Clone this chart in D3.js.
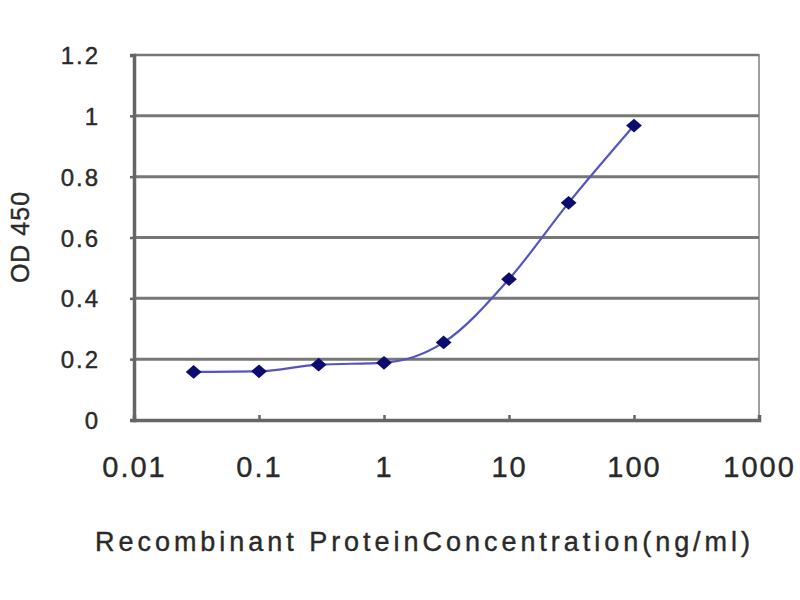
<!DOCTYPE html>
<html>
<head>
<meta charset="utf-8">
<script src="https://cdn.jsdelivr.net/npm/d3@7"></script>
<style>
  body { margin: 0; background: #fff; }
  svg text { font-family: "Liberation Sans", Arial, sans-serif; fill: #2a2a2a; stroke: #2a2a2a; stroke-width: 0.4px; }
</style>
</head>
<body>
<svg id="chart" width="800" height="600"></svg>
<script>
// values
const concentrations = [0.03, 0.1, 0.3, 1, 3, 10, 30, 100];
const odValues = [0.158, 0.160, 0.182, 0.188, 0.255, 0.463, 0.714, 0.968];
const xTickValues = [0.01, 0.1, 1, 10, 100, 1000];
const xTickLabels = ["0.01", "0.1", "1", "10", "100", "1000"];
const yTickValues = [0, 0.2, 0.4, 0.6, 0.8, 1, 1.2];
const yTickLabels = ["0", "0.2", "0.4", "0.6", "0.8", "1", "1.2"];

const svg = d3.select("#chart");
const plot = { left: 134, right: 759, top: 55, bottom: 420 };

const x = d3.scaleLog().domain([0.01, 1000]).range([plot.left, plot.right]);
const y = d3.scaleLinear().domain([0, 1.2]).range([plot.bottom, plot.top]);

// frame (top/right lighter)
svg.append("rect")
  .attr("x", plot.left).attr("y", plot.top)
  .attr("width", plot.right - plot.left).attr("height", plot.bottom - plot.top)
  .attr("fill", "#fff").attr("stroke", "#a0a0a0").attr("stroke-width", 2);

// gridlines
svg.append("g").selectAll("line")
  .data(yTickValues.filter(v => v > 0))
  .join("line")
  .attr("x1", plot.left).attr("x2", plot.right)
  .attr("y1", d => y(d)).attr("y2", d => y(d))
  .attr("stroke", "#777").attr("stroke-width", d => d === 1.2 ? 2.5 : 3);

// y axis
const yAxis = d3.axisLeft(y).tickValues(yTickValues)
  .tickFormat((d, i) => yTickLabels[i]).tickSize(4).tickPadding(30);
const gy = svg.append("g").attr("transform", `translate(${plot.left},0)`).call(yAxis);
gy.select(".domain").attr("stroke", "#666").attr("stroke-width", 3.5);
gy.selectAll(".tick line").attr("stroke", "#666").attr("stroke-width", 2.5);
gy.selectAll(".tick text")
  .style("font-size", "24px").style("letter-spacing", "2px")
  .attr("dy", "0.36em");

// x axis (ticks pointing inward)
const xAxis = d3.axisBottom(x).tickValues(xTickValues)
  .tickFormat((d, i) => xTickLabels[i]).tickSize(-5).tickPadding(36);
const gx = svg.append("g").attr("transform", `translate(0,${plot.bottom})`).call(xAxis);
gx.select(".domain").attr("stroke", "#666").attr("stroke-width", 3.5);
gx.selectAll(".tick line").attr("stroke", "#666").attr("stroke-width", 2.5);
gx.selectAll(".tick text")
  .style("font-size", "29px").style("letter-spacing", "2px");

// curve
const pts = concentrations.map((c, i) => [c, odValues[i]]);
const line = d3.line()
  .x(d => x(d[0])).y(d => y(d[1]))
  .curve(d3.curveMonotoneX);
svg.append("path")
  .datum(pts)
  .attr("d", line)
  .attr("fill", "none")
  .attr("stroke", "#5555c0")
  .attr("stroke-width", 2.2);

// diamond markers
const diamond = d3.symbol().type(d3.symbolDiamond2).size(120);
svg.append("g").selectAll("path")
  .data(pts)
  .join("path")
  .attr("d", diamond)
  .attr("transform", d => `translate(${x(d[0])},${y(d[1])}) scale(1.15,1)`)
  .attr("fill", "#0c0c6e");

// axis titles
svg.append("text")
  .attr("x", 95).attr("y", 551)
  .attr("textLength", 655).attr("lengthAdjust", "spacing")
  .style("font-size", "27px")
  .text("Recombinant ProteinConcentration(ng/ml)");

svg.append("text")
  .attr("transform", "translate(29,237) rotate(-90)")
  .attr("text-anchor", "middle")
  .style("font-size", "25px").style("letter-spacing", "1px")
  .text("OD 450");
</script>
</body>
</html>
